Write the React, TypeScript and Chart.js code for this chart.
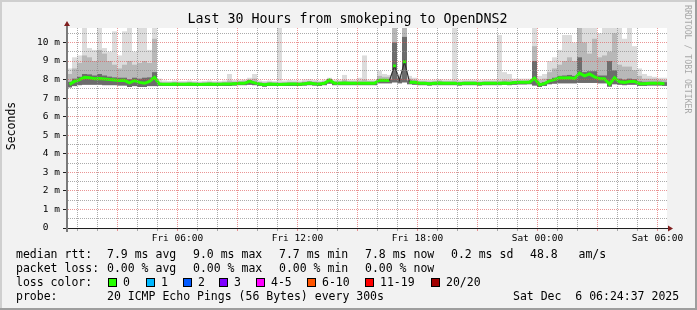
import React, { useEffect, useRef } from "react";
import { Chart, registerables } from "chart.js";

Chart.register(...registerables);

const MONO = '"DejaVu Sans Mono", "Liberation Mono", monospace';

// x axis: hours since Fri 00:00, last 30 hours
const START_HOUR = 0.48;
const END_HOUR = 30.48;
const STEP_HOURS = 0.25;
const Y_MAX = 10.78;

// values in ms, one per 15-minute bin
const medianRtt = [
  7.74, 7.90, 8.00, 8.12, 8.10, 8.05, 8.06, 8.03, 8.00, 7.98,
  7.95, 7.96, 7.82, 7.95, 7.85, 7.80, 7.90, 8.12, 7.76, 7.75,
  7.75, 7.76, 7.75, 7.75, 7.76, 7.75, 7.74, 7.75, 7.76, 7.75,
  7.75, 7.76, 7.76, 7.78, 7.80, 7.80, 7.90, 7.82, 7.76, 7.72,
  7.76, 7.75, 7.74, 7.75, 7.76, 7.76, 7.75, 7.78, 7.82, 7.78,
  7.76, 7.80, 7.97, 7.80, 7.80, 7.82, 7.80, 7.80, 7.80, 7.80,
  7.80, 7.80, 7.96, 7.96, 7.95, 8.74, 7.96, 8.96, 7.86, 7.85,
  7.80, 7.80, 7.78, 7.80, 7.82, 7.80, 7.80, 7.80, 7.78, 7.80,
  7.80, 7.80, 7.78, 7.80, 7.80, 7.80, 7.80, 7.82, 7.80, 7.84,
  7.85, 7.85, 7.86, 8.08, 7.72, 7.78, 7.93, 8.00, 8.10, 8.08,
  8.10, 8.05, 8.35, 8.20, 8.30, 8.15, 8.05, 8.05, 7.75, 8.10,
  7.88, 7.85, 7.90, 7.90, 7.78, 7.78, 7.80, 7.80, 7.80, 7.78,
];

const pingMin = [
  7.58, 7.65, 7.70, 7.72, 7.72, 7.72, 7.72, 7.70, 7.70, 7.70,
  7.68, 7.68, 7.60, 7.65, 7.60, 7.60, 7.65, 7.65, 7.66, 7.66,
  7.66, 7.66, 7.66, 7.66, 7.66, 7.66, 7.66, 7.66, 7.66, 7.66,
  7.66, 7.66, 7.66, 7.68, 7.70, 7.70, 7.72, 7.70, 7.66, 7.62,
  7.66, 7.66, 7.66, 7.66, 7.66, 7.66, 7.66, 7.68, 7.70, 7.68,
  7.66, 7.70, 7.78, 7.70, 7.70, 7.70, 7.70, 7.70, 7.70, 7.70,
  7.70, 7.70, 7.80, 7.80, 7.80, 7.85, 7.80, 7.85, 7.75, 7.72,
  7.70, 7.70, 7.68, 7.70, 7.70, 7.70, 7.70, 7.70, 7.68, 7.70,
  7.70, 7.70, 7.68, 7.70, 7.70, 7.70, 7.70, 7.72, 7.70, 7.72,
  7.74, 7.74, 7.75, 7.68, 7.60, 7.66, 7.75, 7.78, 7.80, 7.80,
  7.80, 7.80, 7.82, 7.82, 7.82, 7.82, 7.80, 7.80, 7.62, 7.75,
  7.72, 7.70, 7.72, 7.72, 7.66, 7.66, 7.68, 7.68, 7.68, 7.66,
];

const smokeInner = [
  7.88, 8.05, 8.15, 8.30, 8.28, 8.22, 8.30, 8.22, 8.16, 8.12,
  8.10, 8.10, 8.02, 8.10, 8.05, 8.10, 8.12, 8.40, 7.82, 7.81,
  7.81, 7.82, 7.81, 7.81, 7.82, 7.81, 7.80, 7.81, 7.82, 7.81,
  7.81, 7.82, 7.82, 7.84, 7.86, 7.86, 7.96, 7.88, 7.82, 7.78,
  7.82, 7.81, 7.80, 7.81, 7.82, 7.82, 7.81, 7.84, 7.88, 7.84,
  7.82, 7.86, 8.03, 7.86, 7.86, 7.88, 7.86, 7.86, 7.86, 7.86,
  7.86, 7.86, 8.02, 8.02, 8.01, 10.00, 8.05, 10.30, 7.95, 7.93,
  7.86, 7.86, 7.84, 7.86, 7.88, 7.86, 7.86, 7.86, 7.84, 7.86,
  7.86, 7.86, 7.84, 7.86, 7.86, 7.86, 7.86, 7.88, 7.86, 7.90,
  7.91, 7.91, 7.92, 9.00, 7.80, 7.86, 8.02, 8.10, 8.20, 8.22,
  8.25, 8.20, 9.20, 8.40, 8.45, 8.45, 8.22, 8.22, 9.00, 8.50,
  8.05, 8.00, 8.05, 8.02, 7.90, 7.88, 7.88, 7.88, 7.88, 7.86,
];

const smokeMid = [
  8.30, 8.60, 8.90, 9.30, 9.20, 9.00, 9.60, 9.40, 9.00, 8.80,
  8.60, 8.80, 9.00, 8.80, 8.90, 9.00, 8.90, 10.20, 7.88, 7.86,
  7.86, 7.88, 7.86, 7.86, 7.88, 7.86, 7.85, 7.86, 7.88, 7.86,
  7.86, 7.88, 7.95, 7.90, 7.92, 7.95, 8.00, 8.05, 7.88, 7.85,
  7.88, 7.86, 7.85, 7.86, 7.88, 7.88, 7.86, 7.90, 7.92, 7.90,
  7.88, 7.92, 8.05, 7.92, 7.92, 7.98, 7.92, 7.92, 7.95, 8.00,
  7.92, 7.92, 8.20, 8.15, 8.15, 11.00, 8.20, 11.00, 8.05, 8.00,
  7.92, 7.92, 7.90, 7.92, 7.95, 7.92, 7.92, 7.95, 7.90, 7.92,
  7.92, 7.92, 7.90, 7.92, 7.92, 7.92, 7.95, 8.00, 7.98, 7.95,
  7.96, 7.96, 7.98, 9.80, 8.00, 8.05, 8.40, 8.60, 8.80, 9.00,
  9.20, 9.00, 11.00, 10.00, 9.40, 10.20, 9.20, 9.30, 9.50, 10.50,
  8.80, 8.70, 8.70, 8.50, 8.20, 8.05, 8.05, 8.05, 8.00, 7.98,
];

const pingMax = [
  8.60, 9.20, 9.30, 11.00, 9.70, 9.60, 11.00, 9.70, 9.50, 10.60,
  9.30, 10.60, 11.00, 9.50, 11.00, 11.00, 9.60, 11.00, 8.05, 7.95,
  7.92, 7.95, 7.92, 7.92, 7.95, 7.92, 7.90, 7.92, 7.95, 7.92,
  7.92, 7.95, 8.30, 7.98, 8.00, 8.00, 8.10, 8.30, 7.95, 7.92,
  7.95, 7.92, 11.00, 7.95, 7.98, 7.96, 7.95, 8.00, 8.02, 7.98,
  7.95, 8.00, 8.10, 8.00, 8.00, 8.25, 8.00, 8.00, 8.10, 9.30,
  8.00, 8.00, 8.47, 8.30, 8.25, 11.00, 8.30, 11.00, 8.20, 8.10,
  8.00, 8.00, 7.98, 8.00, 8.02, 8.00, 8.00, 11.00, 7.98, 8.00,
  8.00, 8.00, 7.98, 8.00, 8.00, 8.02, 10.40, 8.40, 8.30, 8.05,
  8.05, 8.05, 8.05, 11.00, 8.20, 8.30, 9.00, 9.20, 9.60, 10.40,
  10.40, 10.00, 11.00, 11.00, 11.00, 11.00, 10.50, 11.00, 11.00, 11.00,
  11.00, 10.20, 11.00, 9.80, 8.60, 8.30, 8.20, 8.15, 8.10, 8.10,
];

const hourGridTicks = [
  1, 2, 3, 4, 5, 6, 7, 8, 9, 10, 11, 12, 13, 14, 15,
  16, 17, 18, 19, 20, 21, 22, 23, 24, 25, 26, 27, 28, 29, 30,
];
const yGridTicks = [
  0, 0.5, 1, 1.5, 2, 2.5, 3, 3.5, 4, 4.5, 5, 5.5,
  6, 6.5, 7, 7.5, 8, 8.5, 9, 9.5, 10, 10.5,
];
const timeTickHours = [6, 12, 18, 24, 30];
const timeTickLabels = ["Fri 06:00", "Fri 12:00", "Fri 18:00", "Sat 00:00", "Sat 06:00"];

const titleText = "Last 30 Hours from smokeping to OpenDNS2";
const rttStats = ["7.9 ms avg", "9.0 ms max", "7.7 ms min", "7.8 ms now", "0.2 ms sd", "48.8   am/s"];
const lossStats = ["0.00 % avg", "0.00 % max", "0.00 % min", "0.00 % now"];
const lossLabels = ["0", "1", "2", "3", "4-5", "6-10", "11-19", "20/20"];
const lossColors = ["#26ff00", "#00b8ff", "#0059ff", "#7e00ff", "#ff00ff", "#ff5500", "#ff0000", "#a10000"];
const probeText = "20 ICMP Echo Pings (56 Bytes) every 300s";
const stampText = "Sat Dec  6 06:24:37 2025";

// layout (pixels)
const rttX = [107, 193, 279, 365, 451, 530];
const lossX = [107, 193, 279, 365];
const boxX = [108, 146, 183, 219, 256, 307, 365, 431];

const MINOR = "rgba(143,143,143,0.75)";
const MAJOR = "rgba(222,79,79,0.6)";

function Txt(props: any) {
  const { x, base, size = 11.5, color = "#000", children } = props;
  const lh = 14;
  const top = base - ((lh - 1.164 * size) / 2 + 0.928 * size);
  return (
    <div
      style={{
        position: "absolute",
        left: x,
        top,
        fontSize: size,
        lineHeight: lh + "px",
        fontFamily: MONO,
        color,
        whiteSpace: "pre",
      }}
    >
      {children}
    </div>
  );
}

export default function App() {
  const ref = useRef<HTMLCanvasElement>(null);

  useEffect(() => {
    const canvas = ref.current;
    if (!canvas) return;
    const binX = medianRtt.map((_, i) => START_HOUR + STEP_HOURS * (i + 0.5));
    const band = (hi: number[]) => binX.map((x, i) => ({ x, y: [pingMin[i], hi[i]] }));
    const isSpike = (i: number) =>
      i > 0 && i < medianRtt.length - 1 &&
      medianRtt[i] - medianRtt[i - 1] > 0.4 && medianRtt[i] - medianRtt[i + 1] > 0.4;

    const plotBg = {
      id: "plotBg",
      beforeDraw(chart: any) {
        const { ctx, chartArea: a } = chart;
        ctx.save();
        ctx.fillStyle = "#ffffff";
        ctx.fillRect(a.left, a.top, a.right - a.left, a.bottom - a.top);
        ctx.restore();
      },
    };
    const axisArrows = {
      id: "axisArrows",
      afterDraw(chart: any) {
        const { ctx, chartArea: a } = chart;
        ctx.save();
        ctx.strokeStyle = "#1f1f1f";
        ctx.lineWidth = 1;
        ctx.beginPath();
        ctx.moveTo(a.left - 4, a.bottom + 0.5);
        ctx.lineTo(a.right + 1, a.bottom + 0.5);
        ctx.stroke();
        ctx.strokeStyle = "#7a7a7a";
        ctx.lineWidth = 2;
        ctx.beginPath();
        ctx.moveTo(a.left, a.bottom + 4);
        ctx.lineTo(a.left, a.top - 2);
        ctx.stroke();
        ctx.fillStyle = "#801f1f";
        ctx.beginPath();
        ctx.moveTo(a.left - 3, a.top - 2);
        ctx.lineTo(a.left + 3, a.top - 2);
        ctx.lineTo(a.left, a.top - 7);
        ctx.closePath();
        ctx.fill();
        ctx.beginPath();
        ctx.moveTo(a.right + 1, a.bottom - 2.5);
        ctx.lineTo(a.right + 1, a.bottom + 3.5);
        ctx.lineTo(a.right + 6, a.bottom + 0.5);
        ctx.closePath();
        ctx.fill();
        ctx.restore();
      },
    };

    const barCommon = {
      type: "bar",
      grouped: false,
      barPercentage: 1,
      categoryPercentage: 1,
      inflateAmount: 0,
      borderWidth: 0,
    };

    const chart = new Chart(canvas, {
      type: "bar",
      data: {
        datasets: [
          {
            type: "line",
            label: "median rtt",
            data: binX.map((x, i) => ({ x, y: medianRtt[i] })),
            borderColor: "#26ff00",
            borderWidth: 3,
            pointRadius: (c: any) => (isSpike(c.dataIndex) ? 2 : 0),
            pointStyle: "rect",
            pointBackgroundColor: "#26ff00",
            pointBorderWidth: 0,
            tension: 0,
            fill: false,
            order: 0,
            segment: {
              borderColor: (c: any) =>
                Math.abs(c.p1.parsed.y - c.p0.parsed.y) > 0.4 ? "#303030" : undefined,
              borderWidth: (c: any) =>
                Math.abs(c.p1.parsed.y - c.p0.parsed.y) > 0.4 ? 1.2 : undefined,
            },
          },
          { ...barCommon, label: "smoke inner", data: band(smokeInner), backgroundColor: "#6c6c6c", order: 1 },
          { ...barCommon, label: "smoke mid", data: band(smokeMid), backgroundColor: "#b8b8b8", order: 2 },
          { ...barCommon, label: "smoke outer", data: band(pingMax), backgroundColor: "#dcdcdc", order: 3 },
        ],
      } as any,
      plugins: [plotBg, axisArrows],
      options: {
        animation: false,
        responsive: false,
        devicePixelRatio: 1,
        events: [],
        layout: { padding: { left: 0, top: 28, right: 30, bottom: 60 } },
        plugins: { legend: { display: false }, tooltip: { enabled: false }, title: { display: false } },
        scales: {
          x: {
            type: "linear",
            min: START_HOUR,
            max: END_HOUR,
            offset: false,
            afterBuildTicks: (s: any) => {
              s.ticks = hourGridTicks.map((v) => ({ value: v }));
            },
            afterFit: (s: any) => {
              s.height = 22;
            },
            ticks: {
              autoSkip: false,
              maxRotation: 0,
              minRotation: 0,
              padding: 2,
              color: "#000",
              font: { family: MONO, size: 9.5 },
              callback: (v: any) => {
                const k = timeTickHours.indexOf(Number(v));
                return k >= 0 ? timeTickLabels[k] : "";
              },
            },
            grid: {
              offset: false,
              z: 1,
              lineWidth: 1,
              tickLength: 3,
              color: (c: any) => (c.tick && c.tick.value % 3 === 0 ? MAJOR : MINOR),
              tickColor: (c: any) => (c.tick && c.tick.value % 3 === 0 ? MAJOR : MINOR),
            },
            border: { display: true, color: "#1f1f1f", width: 1, dash: [1, 1], z: 2 },
          },
          y: {
            type: "linear",
            min: 0,
            max: Y_MAX,
            afterBuildTicks: (s: any) => {
              s.ticks = yGridTicks.map((v) => ({ value: v }));
            },
            afterFit: (s: any) => {
              s.width = 67;
            },
            ticks: {
              autoSkip: false,
              padding: 3,
              color: "#000",
              font: { family: MONO, size: 9.5 },
              callback: (v: any) => {
                const n = Number(v);
                if (!Number.isInteger(n)) return "";
                return n === 0 ? "0  " : n + " m";
              },
            },
            grid: {
              z: 1,
              lineWidth: 1,
              tickLength: 4,
              color: (c: any) => (c.tick && Number.isInteger(c.tick.value) ? MAJOR : MINOR),
              tickColor: (c: any) =>
                c.tick && Number.isInteger(c.tick.value) ? "#1f1f1f" : "rgba(0,0,0,0)",
            },
            border: { display: true, color: "#7a7a7a", width: 2, dash: [1, 1], z: 2 },
          },
        },
      } as any,
    });
    return () => chart.destroy();
  }, []);

  return (
    <div
      style={{
        position: "fixed",
        left: 0,
        top: 0,
        width: 697,
        height: 310,
        background: "#f2f2f2",
        overflow: "hidden",
      }}
    >
      <canvas
        ref={ref}
        width={697}
        height={310}
        style={{ position: "absolute", left: 0, top: 0, width: 697, height: 310, display: "block" }}
      />
      {/* frame shading */}
      <div style={{ position: "absolute", left: 0, top: 0, width: 697, height: 2, background: "#cfcfcf" }} />
      <div style={{ position: "absolute", left: 0, top: 0, width: 2, height: 310, background: "#cfcfcf" }} />
      <div style={{ position: "absolute", left: 0, top: 308, width: 697, height: 2, background: "#9e9e9e" }} />
      <div style={{ position: "absolute", left: 695, top: 0, width: 2, height: 310, background: "#9e9e9e" }} />

      {/* title */}
      <div
        style={{
          position: "absolute",
          left: 0,
          width: 695,
          top: 24 - ((16 - 1.164 * 13.3) / 2 + 0.928 * 13.3),
          textAlign: "center",
          fontSize: 13.3,
          lineHeight: "16px",
          fontFamily: MONO,
          color: "#000",
          whiteSpace: "pre",
        }}
      >
        {titleText}
      </div>

      {/* y axis title */}
      <div
        style={{
          position: "absolute",
          left: -39,
          top: 119,
          width: 100,
          height: 14,
          lineHeight: "14px",
          textAlign: "center",
          fontSize: 11.5,
          fontFamily: MONO,
          color: "#000",
          transform: "rotate(-90deg)",
        }}
      >
        Seconds
      </div>

      {/* watermark */}
      <div
        style={{
          position: "absolute",
          left: 683,
          top: 5,
          writingMode: "vertical-rl",
          fontSize: 8.2,
          lineHeight: "10px",
          fontFamily: MONO,
          color: "#a8a8a8",
          whiteSpace: "pre",
        }}
      >
        RRDTOOL / TOBI OETIKER
      </div>

      {/* legend */}
      <Txt x={16} base={258}>median rtt:</Txt>
      {rttStats.map((s, i) => (
        <Txt key={"r" + i} x={rttX[i]} base={258}>{s}</Txt>
      ))}
      <Txt x={16} base={272}>packet loss:</Txt>
      {lossStats.map((s, i) => (
        <Txt key={"l" + i} x={lossX[i]} base={272}>{s}</Txt>
      ))}
      <Txt x={16} base={286}>loss color:</Txt>
      {lossLabels.map((s, i) => (
        <React.Fragment key={"c" + i}>
          <div
            style={{
              position: "absolute",
              left: boxX[i],
              top: 278,
              width: 9,
              height: 9,
              boxSizing: "border-box",
              border: "1px solid #000",
              background: lossColors[i],
            }}
          />
          <Txt x={boxX[i] + 15} base={286}>{s}</Txt>
        </React.Fragment>
      ))}
      <Txt x={16} base={300}>probe:</Txt>
      <Txt x={107} base={300}>{probeText}</Txt>
      <Txt x={513} base={300}>{stampText}</Txt>
    </div>
  );
}
